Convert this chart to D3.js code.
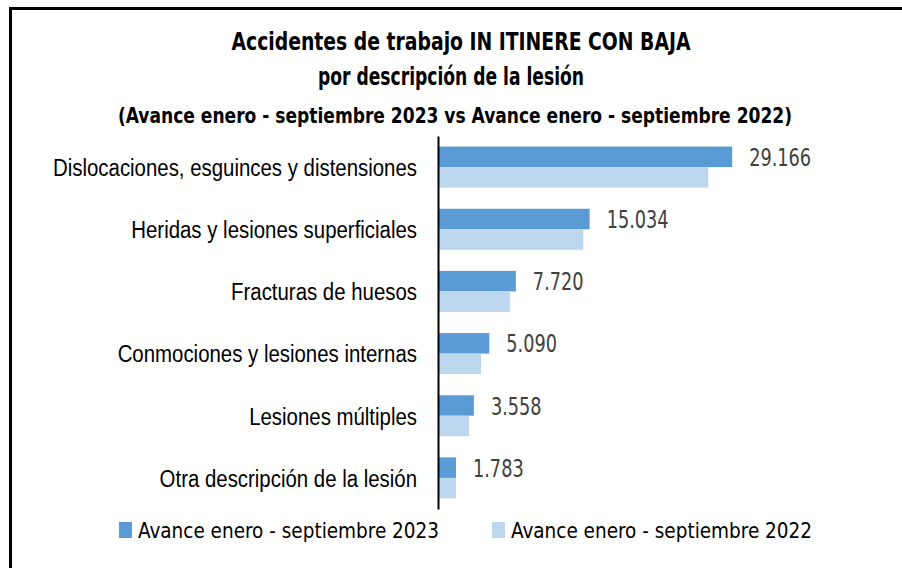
<!DOCTYPE html>
<html>
<head>
<meta charset="utf-8">
<script src="https://cdn.jsdelivr.net/npm/d3@7"></script>
<style>
  body { margin: 0; background: #fff; }
  svg { display: block; font-family: "Liberation Sans Narrow", "Arial Narrow", "DejaVu Sans Condensed", sans-serif; }
</style>
</head>
<body>
<div id="chart"></div>
<script>
// data
var categories = [
  'Dislocaciones, esguinces y distensiones',
  'Heridas y lesiones superficiales',
  'Fracturas de huesos',
  'Conmociones y lesiones internas',
  'Lesiones múltiples',
  'Otra descripción de la lesión'
];
var values2023 = [29166, 15034, 7720, 5090, 3558, 1783];
var values2022 = [26800, 14400, 7150, 4270, 3080, 1790];
var seriesNames = ['Avance enero - septiembre 2023', 'Avance enero - septiembre 2022'];
var titleLines = [
  'Accidentes de trabajo IN ITINERE CON BAJA',
  'por descripción de la lesión',
  '(Avance enero - septiembre 2023 vs Avance enero - septiembre 2022)'
];

var width = 902, height = 568;
var colors = ['#5B9BD5', '#BDD7EE'];
var fmt = d3.formatLocale({decimal: ',', thousands: '.', grouping: [3]}).format(',d');

// the original uses a narrow font, so squeeze texts so a reference string gets the wanted width
function squeeze(sel, refNode, wanted){
  var f = wanted / refNode.getComputedTextLength();
  sel.each(function(){
    var w = this.getComputedTextLength();
    d3.select(this).attr('textLength', w * f).attr('lengthAdjust', 'spacingAndGlyphs');
  });
}

var svg = d3.select('#chart')
  .append('svg')
  .attr('width', width)
  .attr('height', height);

// outer frame (right and bottom edges fall outside the picture)
svg.append('rect')
  .attr('x', 10.5).attr('y', 8.5)
  .attr('width', 1000).attr('height', 1000)
  .attr('fill', 'none')
  .attr('stroke', '#000')
  .attr('stroke-width', 3);

// title
var titleX = [461, 451, 455];
var titleY = [50, 85, 123];
var titleSize = [24, 24, 21];
var titleW = [459, 266, 674];
var titles = svg.selectAll('text.title')
  .data(titleLines)
  .enter()
  .append('text')
  .attr('class', 'title')
  .attr('x', function(d, i){ return titleX[i] })
  .attr('y', function(d, i){ return titleY[i] })
  .attr('text-anchor', 'middle')
  .style('font-weight', 'bold')
  .style('font-size', function(d, i){ return titleSize[i] + 'px' })
  .text(function(d){ return d });
titles.each(function(d, i){ squeeze(d3.select(this), this, titleW[i]) });

var x = d3.scaleLinear().domain([0, 35000]).range([438, 791]);
var y = d3.scaleBand().domain(categories).range([136, 509]).paddingInner(0.34).paddingOuter(0.17);
var ySub = d3.scaleBand().domain([0, 1]).range([0, y.bandwidth()]);

var rows = categories.map(function(c, i){
  return { cat: c, vals: [values2023[i], values2022[i]] };
});

var groups = svg.selectAll('g.row')
  .data(rows)
  .enter()
  .append('g')
  .attr('class', 'row')
  .attr('transform', function(d){ return 'translate(0,' + y(d.cat) + ')' });

groups.selectAll('rect')
  .data(function(d){ return d.vals })
  .enter()
  .append('rect')
  .attr('x', x(0))
  .attr('y', function(d, i){ return ySub(i) })
  .attr('width', function(d){ return x(d) - x(0) })
  .attr('height', ySub.bandwidth())
  .attr('fill', function(d, i){ return colors[i] });

// value labels for 2023 only
var valLabels = groups.append('text')
  .attr('x', function(d){ return x(d.vals[0]) + 17 })
  .attr('y', ySub(0) + ySub.bandwidth() / 2 + 9)
  .style('font-size', '25px')
  .attr('fill', '#404040')
  .text(function(d){ return fmt(d.vals[0]) });
squeeze(valLabels, valLabels.nodes()[0], 62);

// category axis
var axis = svg.append('g')
  .attr('transform', 'translate(' + x(0) + ',0)')
  .call(d3.axisLeft(y).tickSize(0).tickSizeOuter(0).tickPadding(21));
axis.select('.domain').attr('stroke', '#000').attr('stroke-width', 2);
var catLabels = axis.selectAll('text')
  .style('font-family', 'inherit')
  .style('font-size', '23px')
  .attr('fill', '#000')
  .attr('dy', '0.38em');
squeeze(catLabels, catLabels.nodes()[0], 364);

// legend
var legendX = [119, 492];
var legend = svg.selectAll('g.legend')
  .data(seriesNames)
  .enter()
  .append('g')
  .attr('class', 'legend')
  .attr('transform', function(d, i){ return 'translate(' + legendX[i] + ',522)' });
legend.append('rect')
  .attr('width', 13).attr('height', 16)
  .attr('fill', function(d, i){ return colors[i] });
var legendText = legend.append('text')
  .attr('x', 19).attr('y', 16)
  .style('font-size', '22px')
  .text(function(d){ return d });
squeeze(legendText, legendText.nodes()[0], 301);
</script>
</body>
</html>
